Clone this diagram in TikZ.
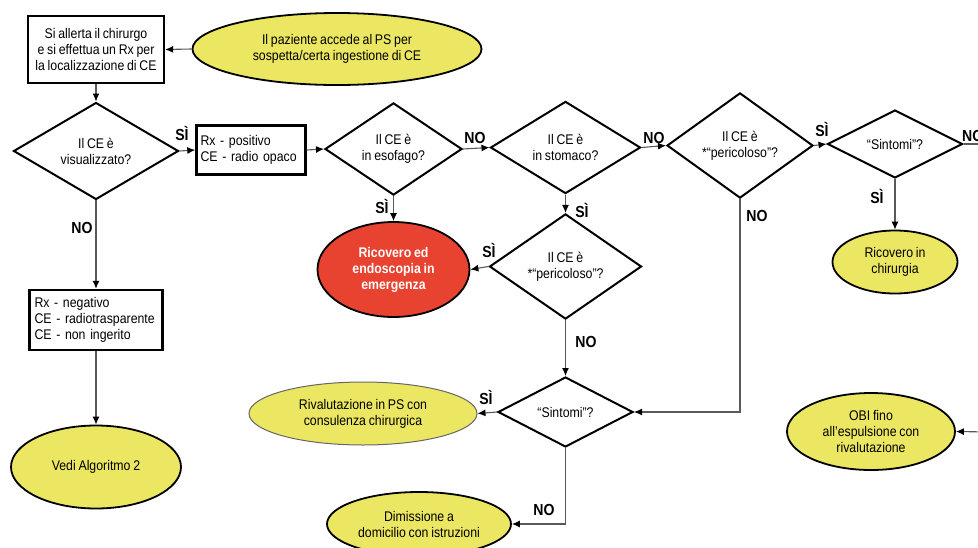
\documentclass[tikz,border=0pt]{standalone}
\usepackage{fontspec}
\setmainfont{Liberation Sans}[FakeStretch=0.88, WordSpace=0.8]
\usetikzlibrary{arrows.meta,shapes.geometric}
\definecolor{lemon}{RGB}{236,231,98}
\definecolor{alarm}{RGB}{232,66,48}

\begin{document}
\begin{tikzpicture}[
  x=1pt, y=-1pt,
  font=\fontsize{14}{16}\selectfont,
  act/.style={draw=black, line width=2.4pt, fill=white, inner sep=0pt},
  dec/.style={diamond, draw=black, line width=2pt, fill=white, inner sep=0pt, align=center},
  term/.style={ellipse, draw=black, line width=1.8pt, fill=lemon, inner sep=0pt, align=center},
  ans/.style={font=\fontsize{16}{18}\selectfont\bfseries, inner sep=0pt},
  con/.style={black!65, line width=1.1pt},
  arr/.style={con, -{Latex[length=8pt,width=7pt,color=black]}},
]
\useasboundingbox (0,0) rectangle (978,547);
\clip (0,0) rectangle (978,547);

% ---------- start ----------
\node[term, minimum width=289pt, minimum height=72pt] (start) at (337,49)
  {Il paziente accede al PS per\\sospetta/certa ingestione di CE};
\node[act, minimum width=136pt, minimum height=67pt, align=center] (alert) at (96,49.5)
  {Si allerta il chirurgo\\e si effettua un Rx per\\la localizzazione di CE};

% ---------- main row ----------
\node[dec, minimum width=165pt, minimum height=92pt] (vis) at (96,151) {Il CE è\\visualizzato?};
\node[act, text width=101pt, inner xsep=4pt, minimum height=49pt, align=left] (rxpos) at (251,150)
  {Rx - positivo\\CE - radio opaco};
\node[dec, minimum width=137pt, minimum height=90pt] (eso) at (393.5,149) {Il CE è\\in esofago?};
\node[dec, minimum width=150pt, minimum height=92pt] (sto) at (565.5,147.5) {Il CE è\\in stomaco?};
\node[dec, minimum width=146pt, minimum height=92pt] (per1) at (740,145.5) {Il CE è\\*“pericoloso”?};
\node[dec, minimum width=135pt, minimum height=68pt] (sin1) at (895,144) {“Sintomi”?};
\coordinate (edgeN) at (990,144);

% ---------- outcomes ----------
\node[term, minimum width=125pt, minimum height=63pt] (chir) at (895,262) {Ricovero in\\chirurgia};
\node[dec, minimum width=152pt, minimum height=85pt] (per2) at (565.5,266.5) {Il CE è\\*“pericoloso”?};
\node[term, fill=alarm, text=white, font=\fontsize{14}{16}\selectfont\bfseries,
  minimum width=152pt, minimum height=95pt] (endo) at (393.5,269.5) {Ricovero ed\\endoscopia in\\emergenza};
\node[dec, minimum width=135pt, minimum height=70pt] (sin2) at (565.5,412) {“Sintomi”?};
\node[term, draw=black!60, line width=1pt, minimum width=228pt, minimum height=63pt] (rival) at (363,413.5)
  {Rivalutazione in PS con\\consulenza chirurgica};
\node[term, minimum width=184pt, minimum height=64pt] (dimis) at (419,524)
  {Dimissione a\\domicilio con istruzioni};
\node[term, minimum width=168pt, minimum height=77pt] (obi) at (871,431.5)
  {OBI fino\\all’espulsione con\\rivalutazione};
\coordinate (edgeO) at (990,432);

% ---------- left column ----------
\node[act, text width=123pt, inner xsep=5pt, minimum height=60pt, align=left] (rxneg) at (96,320)
  {Rx - negativo\\CE - radiotrasparente\\CE - non ingerito};
\node[term, minimum width=170pt, minimum height=83pt] (algo) at (96,467) {Vedi Algoritmo 2};

% ---------- connectors ----------
\draw[arr] (start.west) -- (alert.east);
\draw[arr] (alert.south) -- (vis.north);
\draw[arr] (vis.east) -- (rxpos.west);
\draw[arr] (rxpos.east) -- (eso.west);
\draw[arr] (eso.east) -- (sto.west);
\draw[arr] (sto.east) -- (per1.west);
\draw[arr] (per1.east) -- (sin1.west);
\draw[con] (sin1.east) -- (edgeN);
\draw[arr] (sin1.south) -- (chir.north);
\draw[arr] (eso.south) -- (endo.north);
\draw[arr] (sto.south) -- (per2.north);
\draw[arr] (per2.west) -- (endo.east);
\draw[arr] (per2.south) -- (sin2.north);
\draw[arr] (per1.south) |- (sin2.east);
\draw[arr] (sin2.west) -- (rival.east);
\draw[arr] (sin2.south) |- (dimis.east);
\draw[arr] (vis.south) -- (rxneg.north);
\draw[arr] (rxneg.south) -- (algo.north);
\draw[arr] (edgeO) -- (obi.east);

% ---------- answers ----------
\node[ans] (yVis) at (182,133) {SÌ};
\node[ans] (nVis) at (82,228) {NO};
\node[ans] (nEso) at (475,138) {NO};
\node[ans] (yEso) at (382,206) {SÌ};
\node[ans] (nSto) at (654,138) {NO};
\node[ans] (ySto) at (582,210) {SÌ};
\node[ans] (yPer1) at (822,129) {SÌ};
\node[ans] (nPer1) at (757,216) {NO};
\node[ans, anchor=west] (nSin1) at (962,136) {NO};
\node[ans] (ySin1) at (877,196) {SÌ};
\node[ans] (yPer2) at (489,250) {SÌ};
\node[ans] (nPer2) at (586,342) {NO};
\node[ans] (ySin2) at (486,397) {SÌ};
\node[ans] (nSin2) at (544,510) {NO};
\end{tikzpicture}
\end{document}
